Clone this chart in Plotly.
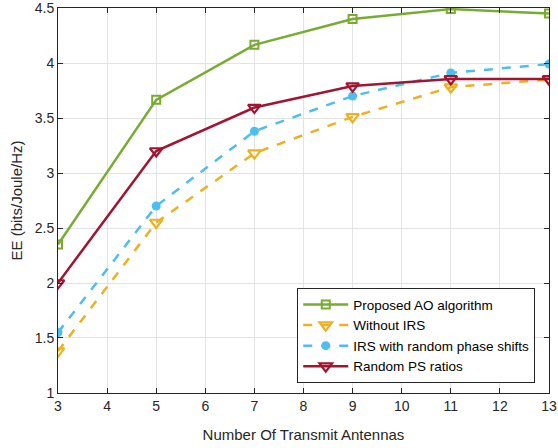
import plotly.graph_objects as go

antennas = [3, 5, 7, 9, 11, 13]
proposed = [2.35, 3.665, 4.165, 4.40, 4.49, 4.45]
without_irs = [1.38, 2.55, 3.18, 3.51, 3.78, 3.85]
irs_random = [1.55, 2.70, 3.38, 3.70, 3.91, 3.99]
random_ps = [2.00, 3.20, 3.595, 3.79, 3.855, 3.855]

x_ticks = [3, 4, 5, 6, 7, 8, 9, 10, 11, 12, 13]
y_ticks = [1, 1.5, 2, 2.5, 3, 3.5, 4, 4.5]

fig = go.Figure()
fig.add_trace(go.Scatter(x=antennas, y=proposed, name="Proposed AO algorithm",
                         mode="lines+markers",
                         line=dict(color="#77AC30", width=2.5),
                         marker=dict(symbol="square-open", size=8, color="#77AC30", line=dict(width=2))))
fig.add_trace(go.Scatter(x=antennas, y=without_irs, name="Without IRS",
                         mode="lines+markers",
                         line=dict(color="#EDB120", width=2.5, dash="dash"),
                         marker=dict(symbol="triangle-down-open", size=11, color="#EDB120", line=dict(width=2.2))))
fig.add_trace(go.Scatter(x=antennas, y=irs_random, name="IRS with random phase shifts",
                         mode="lines+markers",
                         line=dict(color="#4DBEEE", width=2.5, dash="dash"),
                         marker=dict(symbol="circle", size=9, color="#4DBEEE")))
fig.add_trace(go.Scatter(x=antennas, y=random_ps, name="Random PS ratios",
                         mode="lines+markers",
                         line=dict(color="#A2142F", width=2.5),
                         marker=dict(symbol="triangle-down-open", size=11, color="#A2142F", line=dict(width=2.2))))

axis_common = dict(showline=True, linecolor="#262626", linewidth=1, mirror="ticks",
                   ticks="inside", ticklen=5, tickcolor="#262626",
                   showgrid=True, gridcolor="#e3e3e3", gridwidth=1, zeroline=False,
                   ticklabeloverflow="allow", automargin=False,
                   tickfont=dict(size=14, color="#262626"))

fig.update_layout(
    width=558, height=448,
    margin=dict(l=58, r=9, t=8, b=55),
    paper_bgcolor="white", plot_bgcolor="white",
    font=dict(family="Liberation Sans, Arial, sans-serif", color="#262626"),
    xaxis=dict(range=[2.9999, 13.0001], tickvals=x_ticks,
               title=dict(text="Number Of Transmit Antennas", font=dict(size=15), standoff=16),
               **axis_common),
    yaxis=dict(range=[0.9999, 4.5001], tickvals=y_ticks, ticktext=[f"{v:g}" for v in y_ticks],
               title=dict(text="EE (bits/Joule/Hz)", font=dict(size=15), standoff=8),
               **axis_common),
    legend=dict(x=0.972, y=0.272, xanchor="right", yanchor="top",
                bgcolor="white", bordercolor="#262626", borderwidth=1,
                font=dict(size=13.5, color="black"), tracegroupgap=0, itemwidth=45),
    showlegend=True,
)

fig.write_html("out.html")
